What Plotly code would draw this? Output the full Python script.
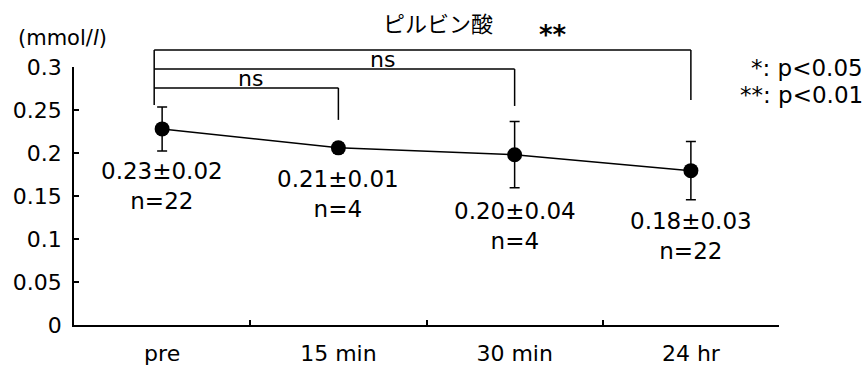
import plotly.graph_objects as go

categories = ["pre", "15 min", "30 min", "24 hr"]
means = [0.228, 0.206, 0.198, 0.1795]
errors = [0.0256, 0.006, 0.0385, 0.034]
value_labels = ["0.23±0.02", "0.21±0.01", "0.20±0.04", "0.18±0.03"]
n_labels = ["n=22", "n=4", "n=4", "n=22"]
label_y = [0.162, 0.152, 0.115, 0.103]

y_tickvals = [0, 0.05, 0.1, 0.15, 0.2, 0.25, 0.3]
y_ticktext = ["0", "0.05", "0.1", "0.15", "0.2", "0.25", "0.3"]

# significance brackets from "pre" to each later time point
bracket_to = [1, 2, 3]
bracket_text = ["ns", "ns", "**"]
bracket_text_x = [0.5, 1.25, 2.22]
bracket_level = [0.919, 0.992, 1.066]      # paper y of horizontal bar
bracket_drop = [0.795, 0.849, 0.872]       # paper y of right leg bottom
left_leg_bottom = 0.853
left_leg_x = -0.045

FONT = "DejaVu Sans"

fig = go.Figure()
fig.add_trace(go.Scatter(
    x=categories, y=means, mode="lines+markers",
    line=dict(color="black", width=1.5),
    marker=dict(color="black", size=15),
    error_y=dict(type="data", array=errors, width=5, thickness=1.5, color="black"),
    showlegend=False, cliponaxis=False,
))

shapes = []
annotations = []
shapes.append(dict(type="line", xref="x", yref="paper", x0=left_leg_x, x1=left_leg_x,
                   y0=left_leg_bottom, y1=max(bracket_level),
                   line=dict(color="black", width=1.5)))
for to, txt, tx, lvl, drop in zip(bracket_to, bracket_text, bracket_text_x,
                                  bracket_level, bracket_drop):
    shapes.append(dict(type="line", xref="x", yref="paper", x0=left_leg_x, x1=to,
                       y0=lvl, y1=lvl, line=dict(color="black", width=1.5)))
    shapes.append(dict(type="line", xref="x", yref="paper", x0=to, x1=to,
                       y0=drop, y1=lvl, line=dict(color="black", width=1.5)))
    if txt == "**":
        annotations.append(dict(x=tx, y=lvl, xref="x", yref="paper", text="<b>**</b>",
                                showarrow=False, xanchor="center", yanchor="bottom", yshift=-2,
                                font=dict(family=FONT, size=26, color="black")))
    else:
        annotations.append(dict(x=tx, y=lvl, xref="x", yref="paper", text=txt,
                                showarrow=False, xanchor="center", yanchor="bottom", yshift=-5,
                                font=dict(family=FONT, size=22, color="black")))

for i, (vl, nl, ly) in enumerate(zip(value_labels, n_labels, label_y)):
    annotations.append(dict(x=i, y=ly, xref="x", yref="y", text=vl + "<br>" + nl,
                            showarrow=False, xanchor="center", yanchor="middle",
                            font=dict(family=FONT, size=23, color="black")))

annotations.append(dict(x=0.516, y=1.174, xref="paper", yref="paper", text="ピルビン酸",
                        showarrow=False, xanchor="center", yanchor="middle",
                        font=dict(family="Noto Sans CJK JP", size=22, color="black")))
annotations.append(dict(x=-0.016, y=1.112, xref="paper", yref="paper", text="(mmol/<i>l</i>)",
                        showarrow=False, xanchor="center", yanchor="middle",
                        font=dict(family=FONT, size=21, color="black")))
annotations.append(dict(x=1.122, y=0.998, xref="paper", yref="paper", text="*: p<0.05",
                        showarrow=False, xanchor="right", yanchor="middle",
                        font=dict(family=FONT, size=23, color="black")))
annotations.append(dict(x=1.122, y=0.89, xref="paper", yref="paper", text="**: p<0.01",
                        showarrow=False, xanchor="right", yanchor="middle",
                        font=dict(family=FONT, size=23, color="black")))

fig.update_layout(
    width=867, height=365,
    margin=dict(l=74, r=88, t=67, b=40),
    paper_bgcolor="white", plot_bgcolor="white",
    shapes=shapes, annotations=annotations,
    xaxis=dict(type="category", range=[-0.5, 3.5], tickson="boundaries",
               ticks="inside", ticklen=5, tickwidth=1.5, tickcolor="black",
               showline=True, linecolor="black", linewidth=1.5, showgrid=False,
               ticklabelstandoff=8, automargin=False,
               tickfont=dict(family=FONT, size=22, color="black")),
    yaxis=dict(range=[0, 0.3], tickvals=y_tickvals, ticktext=y_ticktext,
               ticks="inside", ticklen=5, tickwidth=1.5, tickcolor="black",
               showline=True, linecolor="black", linewidth=1.5, showgrid=False,
               zeroline=False, ticklabelstandoff=6, automargin=False,
               tickfont=dict(family=FONT, size=22, color="black")),
)

fig.write_html("out.html")
